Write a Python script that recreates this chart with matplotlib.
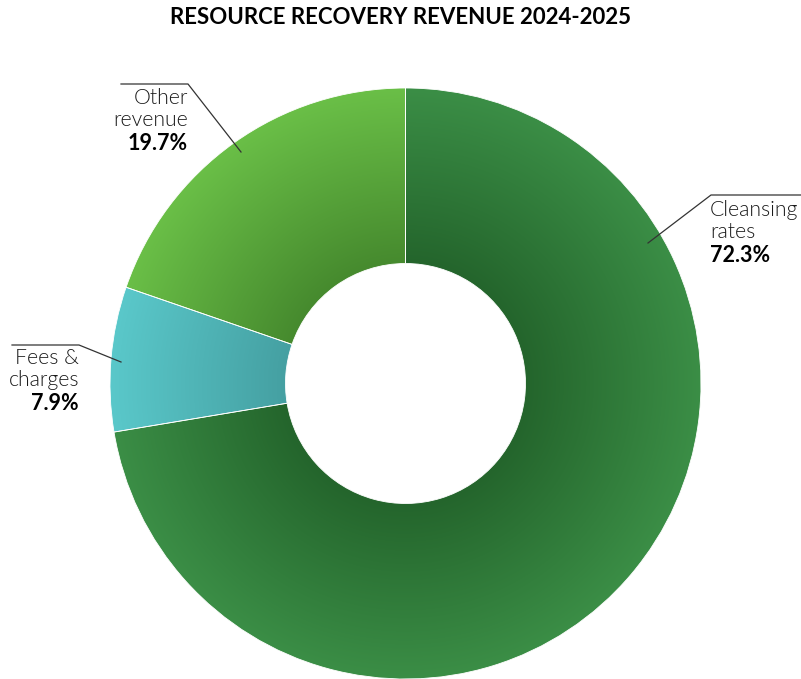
import numpy as np
import matplotlib.pyplot as plt
from matplotlib.patches import Wedge
from matplotlib.colors import LinearSegmentedColormap

categories = ["Cleansing\nrates", "Fees &\ncharges", "Other\nrevenue"]
shares = [72.3, 7.9, 19.7]
inner_colors = ["#24652c", "#45a0a2", "#468a2e"]
outer_colors = ["#3b8e46", "#5ac8ca", "#6abf47"]

W, H = 801, 679
cx, cy = 405.5, 383.5
r_out, r_in = 295.5, 120

fig = plt.figure(figsize=(W / 100, H / 100), dpi=100)
ax = fig.add_axes([0, 0, 1, 1])

wedges, _ = ax.pie(shares, center=(cx, cy), radius=r_out, startangle=90,
                   counterclock=False,
                   wedgeprops=dict(width=r_out - r_in))
for w in wedges:
    w.set_visible(False)

ax.set_xlim(0, W)
ax.set_ylim(H, 0)
ax.set_aspect("equal")
ax.axis("off")

# radial distance grid for the shaded fill
xs = np.arange(W) + 0.5
ys = np.arange(H) + 0.5
X, Y = np.meshgrid(xs, ys)
R = np.hypot(X - cx, Y - cy)
T = np.clip((R - r_in) / (r_out - r_in), 0, 1)

for w, c0, c1 in zip(wedges, inner_colors, outer_colors):
    cmap = LinearSegmentedColormap.from_list("g", [c0, c1])
    im = ax.imshow(T, cmap=cmap, vmin=0, vmax=1, extent=(0, W, H, 0),
                   interpolation="bilinear", zorder=1)
    # y axis runs downward, so the wedge angles are mirrored
    clip = Wedge((cx, cy), r_out, -w.theta2, -w.theta1,
                 width=r_out - r_in, transform=ax.transData)
    im.set_clip_path(clip)
    ax.add_patch(Wedge((cx, cy), r_out, -w.theta2, -w.theta1,
                       width=r_out - r_in, facecolor="none",
                       edgecolor="white", linewidth=0.6, zorder=2))

ax.set_xlim(0, W)
ax.set_ylim(H, 0)

fam = ["Lato", "DejaVu Sans"]
fig.text(0.5, 1 - 18 / H, "RESOURCE RECOVERY REVENUE 2024-2025", ha="center",
         va="center", fontsize=16, fontweight="bold", family=fam)

line_kw = dict(color="#333333", linewidth=0.9, zorder=3)
name_kw = dict(fontsize=15.3, fontweight=300, family=fam, color="#1a1a1a", zorder=4)
pct_kw = dict(fontsize=15.5, fontweight="bold", family=fam, color="black", zorder=4)


def label(i, x, y0, ha):
    # two name lines then the bold share, 22.5 px apart
    for k, part in enumerate(categories[i].split("\n")):
        ax.text(x, y0 + 22.5 * k, part, ha=ha, va="center", **name_kw)
    ax.text(x, y0 + 45, f"{shares[i]}%", ha=ha, va="center", **pct_kw)


# Cleansing rates
ax.plot([648, 711, 801], [243, 195, 195], **line_kw)
label(0, 710, 210, "left")

# Fees & charges
ax.plot([12, 79, 121], [345, 345, 362], **line_kw)
label(1, 79, 358, "right")

# Other revenue
ax.plot([121, 188, 241], [84, 84, 152], **line_kw)
label(2, 188, 98, "right")

fig.savefig("out.png", dpi=100, facecolor="white")
